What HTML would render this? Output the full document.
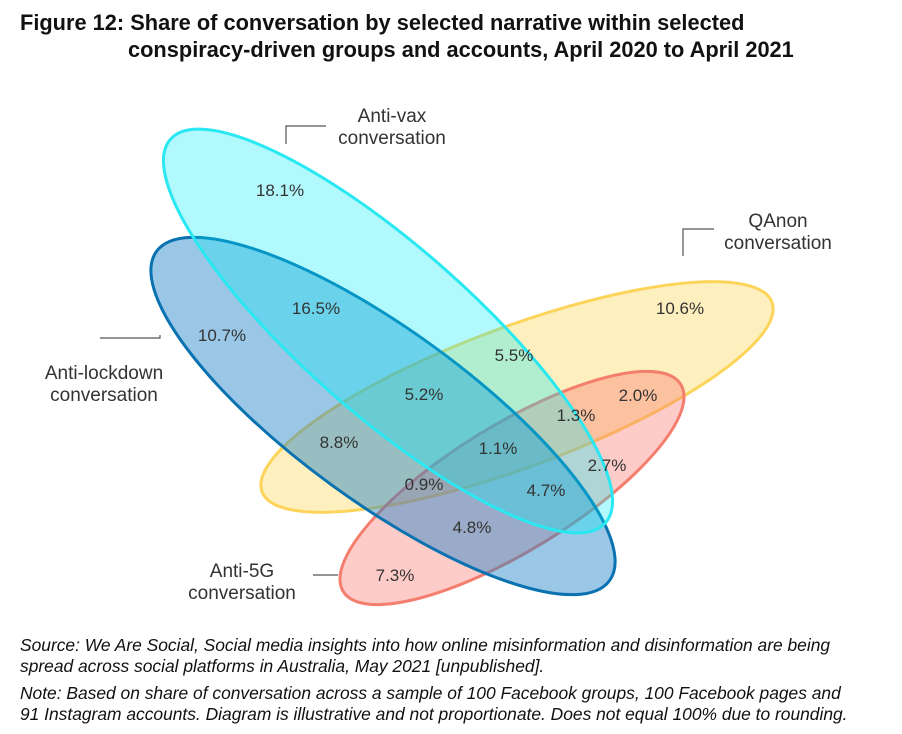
<!DOCTYPE html>
<html><head><meta charset="utf-8"><style>
body{margin:0;background:#fff;width:902px;height:734px;overflow:hidden;font-family:"Liberation Sans",sans-serif;}
.t{position:absolute;left:20px;top:9px;font-weight:bold;font-size:21.8px;line-height:27px;color:#111;}
.n{position:absolute;left:20px;font-style:italic;font-size:17.4px;line-height:21px;color:#111;}
</style></head><body>
<div class="t">Figure 12:&nbsp;Share of conversation by selected narrative within selected<br><span style="padding-left:108px">conspiracy-driven groups and accounts, April 2020 to April 2021</span></div>
<svg id="v" width="902" height="734" style="position:absolute;left:0;top:0"></svg>
<div class="n" style="top:635px">Source: We Are Social, Social media insights into how online misinformation and disinformation are being<br>spread across social platforms in Australia, May 2021 [unpublished].</div>
<div class="n" style="top:683px">Note: Based on share of conversation across a sample of 100 Facebook groups, 100 Facebook pages and<br>91 Instagram accounts. Diagram is illustrative and not proportionate. Does not equal 100% due to rounding.</div>
<script>
const sets=["QAnon","Anti-5G","Anti-lockdown","Anti-vax"];
const regionValues=[18.1,16.5,10.7,10.6,5.5,5.2,2.0,1.3,8.8,1.1,2.7,0.9,4.7,4.8,7.3];
const regionPos=[[280,190],[316,308],[222,335],[680,308],[514,355],[424,394],[638,395],[576,415],[339,442],[498,448],[607,465],[424,484],[546,490],[472,527],[395,575]];
const NS="http://www.w3.org/2000/svg";
const svg=document.getElementById('v');
const ell=[
 {cx:517,cy:397,rx:272,ry:70,a:-20.4,f:"rgba(253,220,110,0.45)",s:"#fcd45a",n:"qanon-ellipse"},
 {cx:512,cy:488,rx:198,ry:63,a:-31.5,f:"rgba(250,120,110,0.38)",s:"#f47e6e",n:"anti-5g-ellipse"},
 {cx:383,cy:416,rx:280,ry:86,a:36,f:"rgba(30,130,200,0.45)",s:"#0a72b0",n:"anti-lockdown-ellipse"},
 {cx:388,cy:331,rx:290,ry:84,a:41.4,f:"rgba(0,235,250,0.3)",s:"#2ae8f2",n:"anti-vax-ellipse"}];
ell.forEach(e=>{const el=document.createElementNS(NS,'ellipse');
el.setAttribute('cx',e.cx);el.setAttribute('cy',e.cy);el.setAttribute('rx',e.rx);el.setAttribute('ry',e.ry);
el.setAttribute('transform',`rotate(${e.a} ${e.cx} ${e.cy})`);el.setAttribute('fill',e.f);el.setAttribute('stroke',e.s);el.setAttribute('stroke-width',3);


svg.appendChild(el);});
regionValues.forEach((v,i)=>{const t=document.createElementNS(NS,'text');
t.setAttribute('x',regionPos[i][0]);t.setAttribute('y',regionPos[i][1]+6);t.setAttribute('text-anchor','middle');
t.setAttribute('font-size','17');t.setAttribute('fill','#333');t.setAttribute('font-family','Liberation Sans, sans-serif');
t.textContent=v.toFixed(1)+'%';


svg.appendChild(t);});
const labels=[["Anti-vax","conversation",392,115,"anti-vax-label"],["QAnon","conversation",778,220,"qanon-label"],["Anti-lockdown","conversation",104,372,"anti-lockdown-label"],["Anti-5G","conversation",242,570,"anti-5g-label"]];
labels.forEach(l=>{const t=document.createElementNS(NS,'text');t.setAttribute('text-anchor','middle');t.setAttribute('font-size','19');t.setAttribute('fill','#333');t.setAttribute('font-family','Liberation Sans, sans-serif');
t.innerHTML=`<tspan x="${l[2]}" y="${l[3]+7}">${l[0]}</tspan><tspan x="${l[2]}" y="${l[3]+29}">${l[1]}</tspan>`;


svg.appendChild(t);});
const arrows=["M326 126 H286 V144","M714 229 H683 V256","M100 338 H160 V335","M313 575 H338"];
arrows.forEach(d=>{const p=document.createElementNS(NS,'path');p.setAttribute('d',d);p.setAttribute('fill','none');p.setAttribute('stroke','#555');p.setAttribute('stroke-width','1.2');


svg.appendChild(p);});
</script>
</body></html>
